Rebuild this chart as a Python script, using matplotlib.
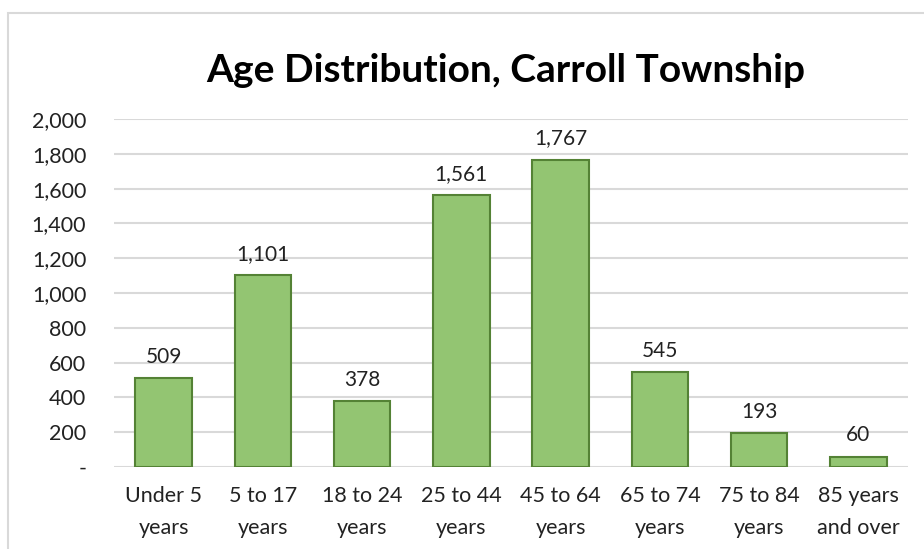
import matplotlib
matplotlib.use("Agg")
import matplotlib.pyplot as plt
from matplotlib.patches import Rectangle
from matplotlib.ticker import FuncFormatter

categories = ["Under 5\nyears", "5 to 17\nyears", "18 to 24\nyears", "25 to 44\nyears",
              "45 to 64\nyears", "65 to 74\nyears", "75 to 84\nyears", "85 years\nand over"]
values = [509, 1101, 378, 1561, 1767, 545, 193, 60]
yticks = [0, 200, 400, 600, 800, 1000, 1200, 1400, 1600, 1800, 2000]

plt.rcParams['font.family'] = ['Lato', 'DejaVu Sans']

fig = plt.figure(figsize=(9.24, 5.49), dpi=100)
ax = fig.add_axes([114/924, 1-467/549, 794/924, 348/549])

x = list(range(len(categories)))
bars = ax.bar(x, values, width=0.57, color="#93c572", edgecolor="#548235", linewidth=1.5, zorder=3)
for xi, v in zip(x, values):
    ax.annotate(f"{v:,}", (xi, v), xytext=(0, 8), textcoords="offset points",
                ha="center", va="bottom", fontsize=15, color="#222222")

ax.set_xlim(-0.5, len(categories) - 0.5)
ax.set_ylim(0, 2000)
ax.set_yticks(yticks)
ax.yaxis.set_major_formatter(FuncFormatter(lambda v, p: "-" if v == 0 else f"{int(v):,}"))
ax.set_xticks(x)
ax.set_xticklabels(categories, fontsize=15.5, color="#222222", linespacing=1.75)
ax.tick_params(axis='y', labelsize=15.5, labelcolor="#222222", length=0, pad=20)
ax.tick_params(axis='x', length=0, pad=14)
ax.grid(axis='y', color="#d9d9d9", linewidth=1.5, zorder=0)
for s in ax.spines.values():
    s.set_visible(False)

fig.text(506/924, 1 - 70/549, "Age Distribution, Carroll Township", ha="center", va="center",
         fontsize=28, fontweight="bold", color="black")
fig.patches.append(Rectangle((8/924, -0.1), 1.2, 1 - 13/549 + 0.1, transform=fig.transFigure,
                             fill=False, edgecolor="#d9d9d9", linewidth=1.5))

fig.savefig("out.png", dpi=100)
